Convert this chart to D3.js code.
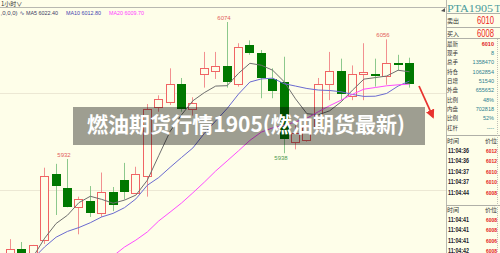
<!DOCTYPE html>
<html><head><meta charset="utf-8">
<script src="https://cdn.jsdelivr.net/npm/d3@7"></script>
<style>html,body{margin:0;padding:0;background:#fefee9;overflow:hidden}</style>
</head><body><svg id="c" width="500" height="253"></svg>
<script>
// ---- data ----
const opens  = [5825,5839,5830,5848,5917,5902,5882,5889,5876,5898,5910,5897,5914,5986,5991,6010,5984,6020,6023,6028,6010,6050,6042,6015,6012,5950,5952,5965,6010,6023,5997,6020,6020,6018,6031,6032];
const highs  = [5849,5846,5843,5923,5927,5932,5893,5904,5918,5903,5928,5924,5989,5998,6026,6016,5996,6043,6043,6074,6052,6055,6045,6026,6038,5967,5972,6016,6043,6036,6029,6052,6036,6056,6040,6037];
const lows   = [5817,5820,5822,5844,5874,5882,5854,5872,5872,5878,5890,5897,5893,5981,5988,5981,5977,6006,6015,6006,6007,6040,5995,5995,5938,5942,5950,5962,5993,5993,5993,5993,6007,6009,6024,6006];
const closes = [5839,5826,5843,5914,5904,5882,5891,5876,5898,5884,5898,5917,5984,5994,6010,5984,5990,6026,6028,6012,6048,6042,6016,6002,5953,5959,5965,6010,6023,5999,6020,6022,6018,6031,6029,6010];
const ma5  = [5800,5815,5831,5850,5865.2,5873.8,5886.8,5893.4,5890.2,5886.2,5889.4,5894.6,5910,5935.4,5960.6,5977.8,5992.4,6000.8,6007.6,6008,6020.8,6031.2,6029.2,6024,6012.2,5994.4,5979,5977.8,5982,5991.2,6003.4,6014.8,6016.4,6018,6024,6022.4];
const ma10 = [5809,5819,5829,5841,5851,5857,5861,5866,5872,5875.7,5881.6,5890.7,5904.8,5912.8,5923.4,5933.6,5943.5,5958.5,5971.5,5984.3,5999.3,6011.8,6015,6015.8,6010.1,6007.6,6005.1,6003.5,6003,6001.7,5998.9,5996.9,5997.1,6000,6007.6,6012.8];
const ma20 = [5760,5768,5776,5784,5792,5799,5806,5815,5823,5831.5,5840.8,5848,5856.4,5867.8,5877,5886.4,5897,5908,5919.6,5930,5940.5,5951.3,5959.9,5964.3,5966.8,5970.6,5974.3,5981,5987.3,5993,5999.1,6004.4,6006.1,6007.9,6008.9,6009.7];
const gridPrices = [6000, 5900];
const markIdx  = [19, 33, 5, 24];
const markType = ['high','high','high','low'];
const maNames = ['MA5','MA10','MA20'];
const title = '燃油期货行情1905(燃油期货最新)';
const symbol = 'PTA1905';
const askBid = [['卖出','6010'],['买入','6008']];
const quoteNames = ['最新','现手','总手','持仓','日增','外盘','比例','内盘','比例','杠杆'];
const quoteVals  = ['6010','8','1358470','1062854','51540','655652','48%','702818','52%','----'];
const tickTimes1 = ['11:04:36','11:04:36','11:04:37','11:04:37','11:04:44'];
const tickPrices1 = ['6012','6012','6010','6010','6008'];
const tickTimes2 = ['11:04:41','11:04:41','11:04:41','11:04:42'];
const tickPrices2 = ['6008','6008','6006','6008'];

// ---- drawing ----
const bg = '#fefee9';
const svg = d3.select('#c');
svg.append('rect').attr('width',500).attr('height',253).attr('fill',bg);

const x = d3.scalePoint().domain(d3.range(closes.length)).range([10,409]);
const y = d3.scaleLinear().domain([5834,6074]).range([253.6,22]);

svg.append('clipPath').attr('id','clip').append('rect').attr('x',0).attr('y',8).attr('width',446).attr('height',245);
const g = svg.append('g').attr('clip-path','url(#clip)');

g.selectAll('line.grid').data(gridPrices).join('line')
  .attr('x1',0).attr('x2',446)
  .attr('y1',d=>Math.round(y(d))+0.5).attr('y2',d=>Math.round(y(d))+0.5)
  .attr('stroke','#ece8d4').attr('stroke-width',1);

const idx = d3.range(closes.length);
const cx = i => Math.round(x(i));
const up = i => closes[i] >= opens[i];
const RED='#f06464', REDW='#f29090', GREEN='#007800', GREENW='#8cc88c';

g.selectAll('line.wick').data(idx).join('line')
  .attr('x1',i=>cx(i)+0.5).attr('x2',i=>cx(i)+0.5)
  .attr('y1',i=>y(highs[i])).attr('y2',i=>y(lows[i]))
  .attr('stroke',i=>up(i)?REDW:GREENW).attr('stroke-width',1);

g.selectAll('rect.up').data(idx.filter(up)).join('rect')
  .attr('x',i=>cx(i)-3.5).attr('width',8)
  .attr('y',i=>Math.round(y(closes[i]))+0.5)
  .attr('height',i=>Math.max(1,Math.round(y(opens[i]))-Math.round(y(closes[i]))))
  .attr('fill',bg).attr('stroke',RED).attr('stroke-width',1);

g.selectAll('rect.dn').data(idx.filter(i=>!up(i))).join('rect')
  .attr('x',i=>cx(i)-4).attr('width',9)
  .attr('y',i=>Math.round(y(opens[i])))
  .attr('height',i=>Math.max(2,Math.round(y(closes[i]))-Math.round(y(opens[i]))))
  .attr('fill',GREEN);

const maColors = ['#6e6e6e','#6a6ad0','#ff4cff'];
[ma5,ma10,ma20].forEach((arr,k)=>{
  g.append('path').datum(idx)
   .attr('d',d3.line().x(i=>x(i)+0.5).y(i=>y(arr[i])))
   .attr('fill','none').attr('stroke',maColors[k]).attr('stroke-width',1);
});

g.selectAll('text.mark').data(markIdx).join('text')
  .attr('x',(i)=>cx(i)-3)
  .attr('y',(i,j)=>markType[j]==='high'? y(highs[i])-2.5 : y(lows[i])+7)
  .attr('text-anchor','middle').attr('font-family','Liberation Sans, Arial, sans-serif')
  .attr('font-size',6).attr('fill',(i,j)=>markType[j]==='high'?'#e25c5c':'#4f9a4f')
  .text((i,j)=>markType[j]==='high'?highs[i]:lows[i]);

// overlay title
svg.append('rect').attr('x',73).attr('y',107).attr('width',352).attr('height',38).attr('fill','rgba(0,0,0,0.375)');
svg.append('text').attr('x',87).attr('y',132).attr('fill','#ffffff')
  .attr('font-family','Noto Sans CJK SC').attr('font-weight','bold').attr('font-size',21)
  .attr('textLength',318).attr('lengthAdjust','spacingAndGlyphs').text(title);

// red arrow annotation
svg.append('defs').append('marker').attr('id','ah').attr('viewBox','0 0 10 10')
  .attr('refX',8).attr('refY',5).attr('markerWidth',5).attr('markerHeight',5).attr('orient','auto')
  .append('path').attr('d','M0,0L10,5L0,10z').attr('fill','#e8322e');
svg.append('line').attr('x1',419).attr('y1',86).attr('x2',433).attr('y2',117)
  .attr('stroke','#e8322e').attr('stroke-width',1.8).attr('marker-end','url(#ah)');

// header
svg.append('line').attr('x1',0).attr('x2',446).attr('y1',7.5).attr('y2',7.5).attr('stroke','#b8b8b0');
svg.append('line').attr('x1',446.5).attr('x2',446.5).attr('y1',0).attr('y2',253).attr('stroke','#b8b8b0');
svg.append('text').attr('x',1).attr('y',5.5).attr('font-family','Noto Sans CJK SC').attr('font-size',6).attr('fill','#333').text('1小时∨');
svg.append('text').attr('x',0.5).attr('y',14.5).attr('font-family','Liberation Sans').attr('font-size',6).attr('fill','#404060').text(',0,0,0)');
svg.append('text').attr('x',19.5).attr('y',14.5).attr('font-family','DejaVu Sans').attr('font-size',6).attr('fill','#404080').text('∿');
const maLast = [ma5,ma10,ma20].map(a=>a[a.length-1]);
const maTxtColors = ['#3c3c64','#4646b0','#ff3cff'];
const maX = [26,66,109];
maNames.forEach((n,k)=>{
  svg.append('text').attr('x',maX[k]).attr('y',14.5).attr('font-family','Liberation Sans').attr('font-size',6)
    .attr('fill',maTxtColors[k]).attr('textLength',k===0?32:35).attr('lengthAdjust','spacingAndGlyphs')
    .text(n+' '+maLast[k].toFixed(2));
});
svg.append('path').attr('d','M441,11L445,8L445,12z').attr('fill','#555');

// right panel
const P = svg.append('g');
P.append('text').attr('x',447).attr('y',11.5).attr('font-family','Liberation Serif').attr('font-size',11)
  .attr('fill','#4a9c9c').attr('textLength',46).attr('lengthAdjust','spacingAndGlyphs').text(symbol);
P.append('text').attr('x',494.5).attr('y',11.5).attr('font-family','Liberation Serif').attr('font-size',10).attr('fill','#4a9c9c').text('T');
[13.5,27.5,38.5,135.5,205.5].forEach(v=>P.append('line').attr('x1',446).attr('x2',500).attr('y1',v).attr('y2',v).attr('stroke','#b0b0a8'));
P.append('line').attr('x1',497.5).attr('x2',497.5).attr('y1',39).attr('y2',253).attr('stroke','#c0c0b8').attr('stroke-dasharray','1,1');
askBid.forEach((r,k)=>{
  const yy = k===0?24:37;
  P.append('text').attr('x',447).attr('y',yy-1).attr('font-family','Noto Sans CJK SC').attr('font-size',6).attr('fill','#333').text(r[0]);
  P.append('text').attr('x',494).attr('y',yy).attr('text-anchor','end').attr('font-family','Liberation Sans').attr('font-size',11)
   .attr('fill','#ee1c1c').attr('textLength',17).attr('lengthAdjust','spacingAndGlyphs').text(r[1]);
});
quoteNames.forEach((n,k)=>{
  const yy = 45.5 + k*9.35;
  P.append('text').attr('x',447).attr('y',yy).attr('font-family','Noto Sans CJK SC').attr('font-size',5.5).attr('fill','#333').text(n);
  P.append('text').attr('x',494).attr('y',yy).attr('text-anchor','end').attr('font-family','Liberation Sans').attr('font-size',5.5)
   .attr('font-weight',k===0?'bold':'normal')
   .attr('fill',k===0?'#e01c1c':'#2e7f90').text(quoteVals[k]);
});
function ticks(times, prices, y0){
  P.append('text').attr('x',447).attr('y',y0).attr('font-family','Noto Sans CJK SC').attr('font-size',6).attr('fill','#333').text('时间');
  P.append('text').attr('x',485).attr('y',y0).attr('font-family','Noto Sans CJK SC').attr('font-size',6).attr('fill','#333').text('价位');
  times.forEach((t,k)=>{
    const yy = y0 + 9.5 + k*10.6;
    P.append('text').attr('x',448).attr('y',yy).attr('font-family','Liberation Sans').attr('font-weight','bold').attr('font-size',6.5)
      .attr('fill','#1a1a2a').attr('textLength',21).attr('lengthAdjust','spacingAndGlyphs').text(t);
    P.append('text').attr('x',486).attr('y',yy).attr('font-family','Liberation Sans').attr('font-weight','bold').attr('font-size',6)
      .attr('fill','#e41c1c').attr('textLength',11).attr('lengthAdjust','spacingAndGlyphs').text(prices[k]);
  });
}
ticks(tickTimes1, tickPrices1, 143);
ticks(tickTimes2, tickPrices2, 212);
</script></body></html>
